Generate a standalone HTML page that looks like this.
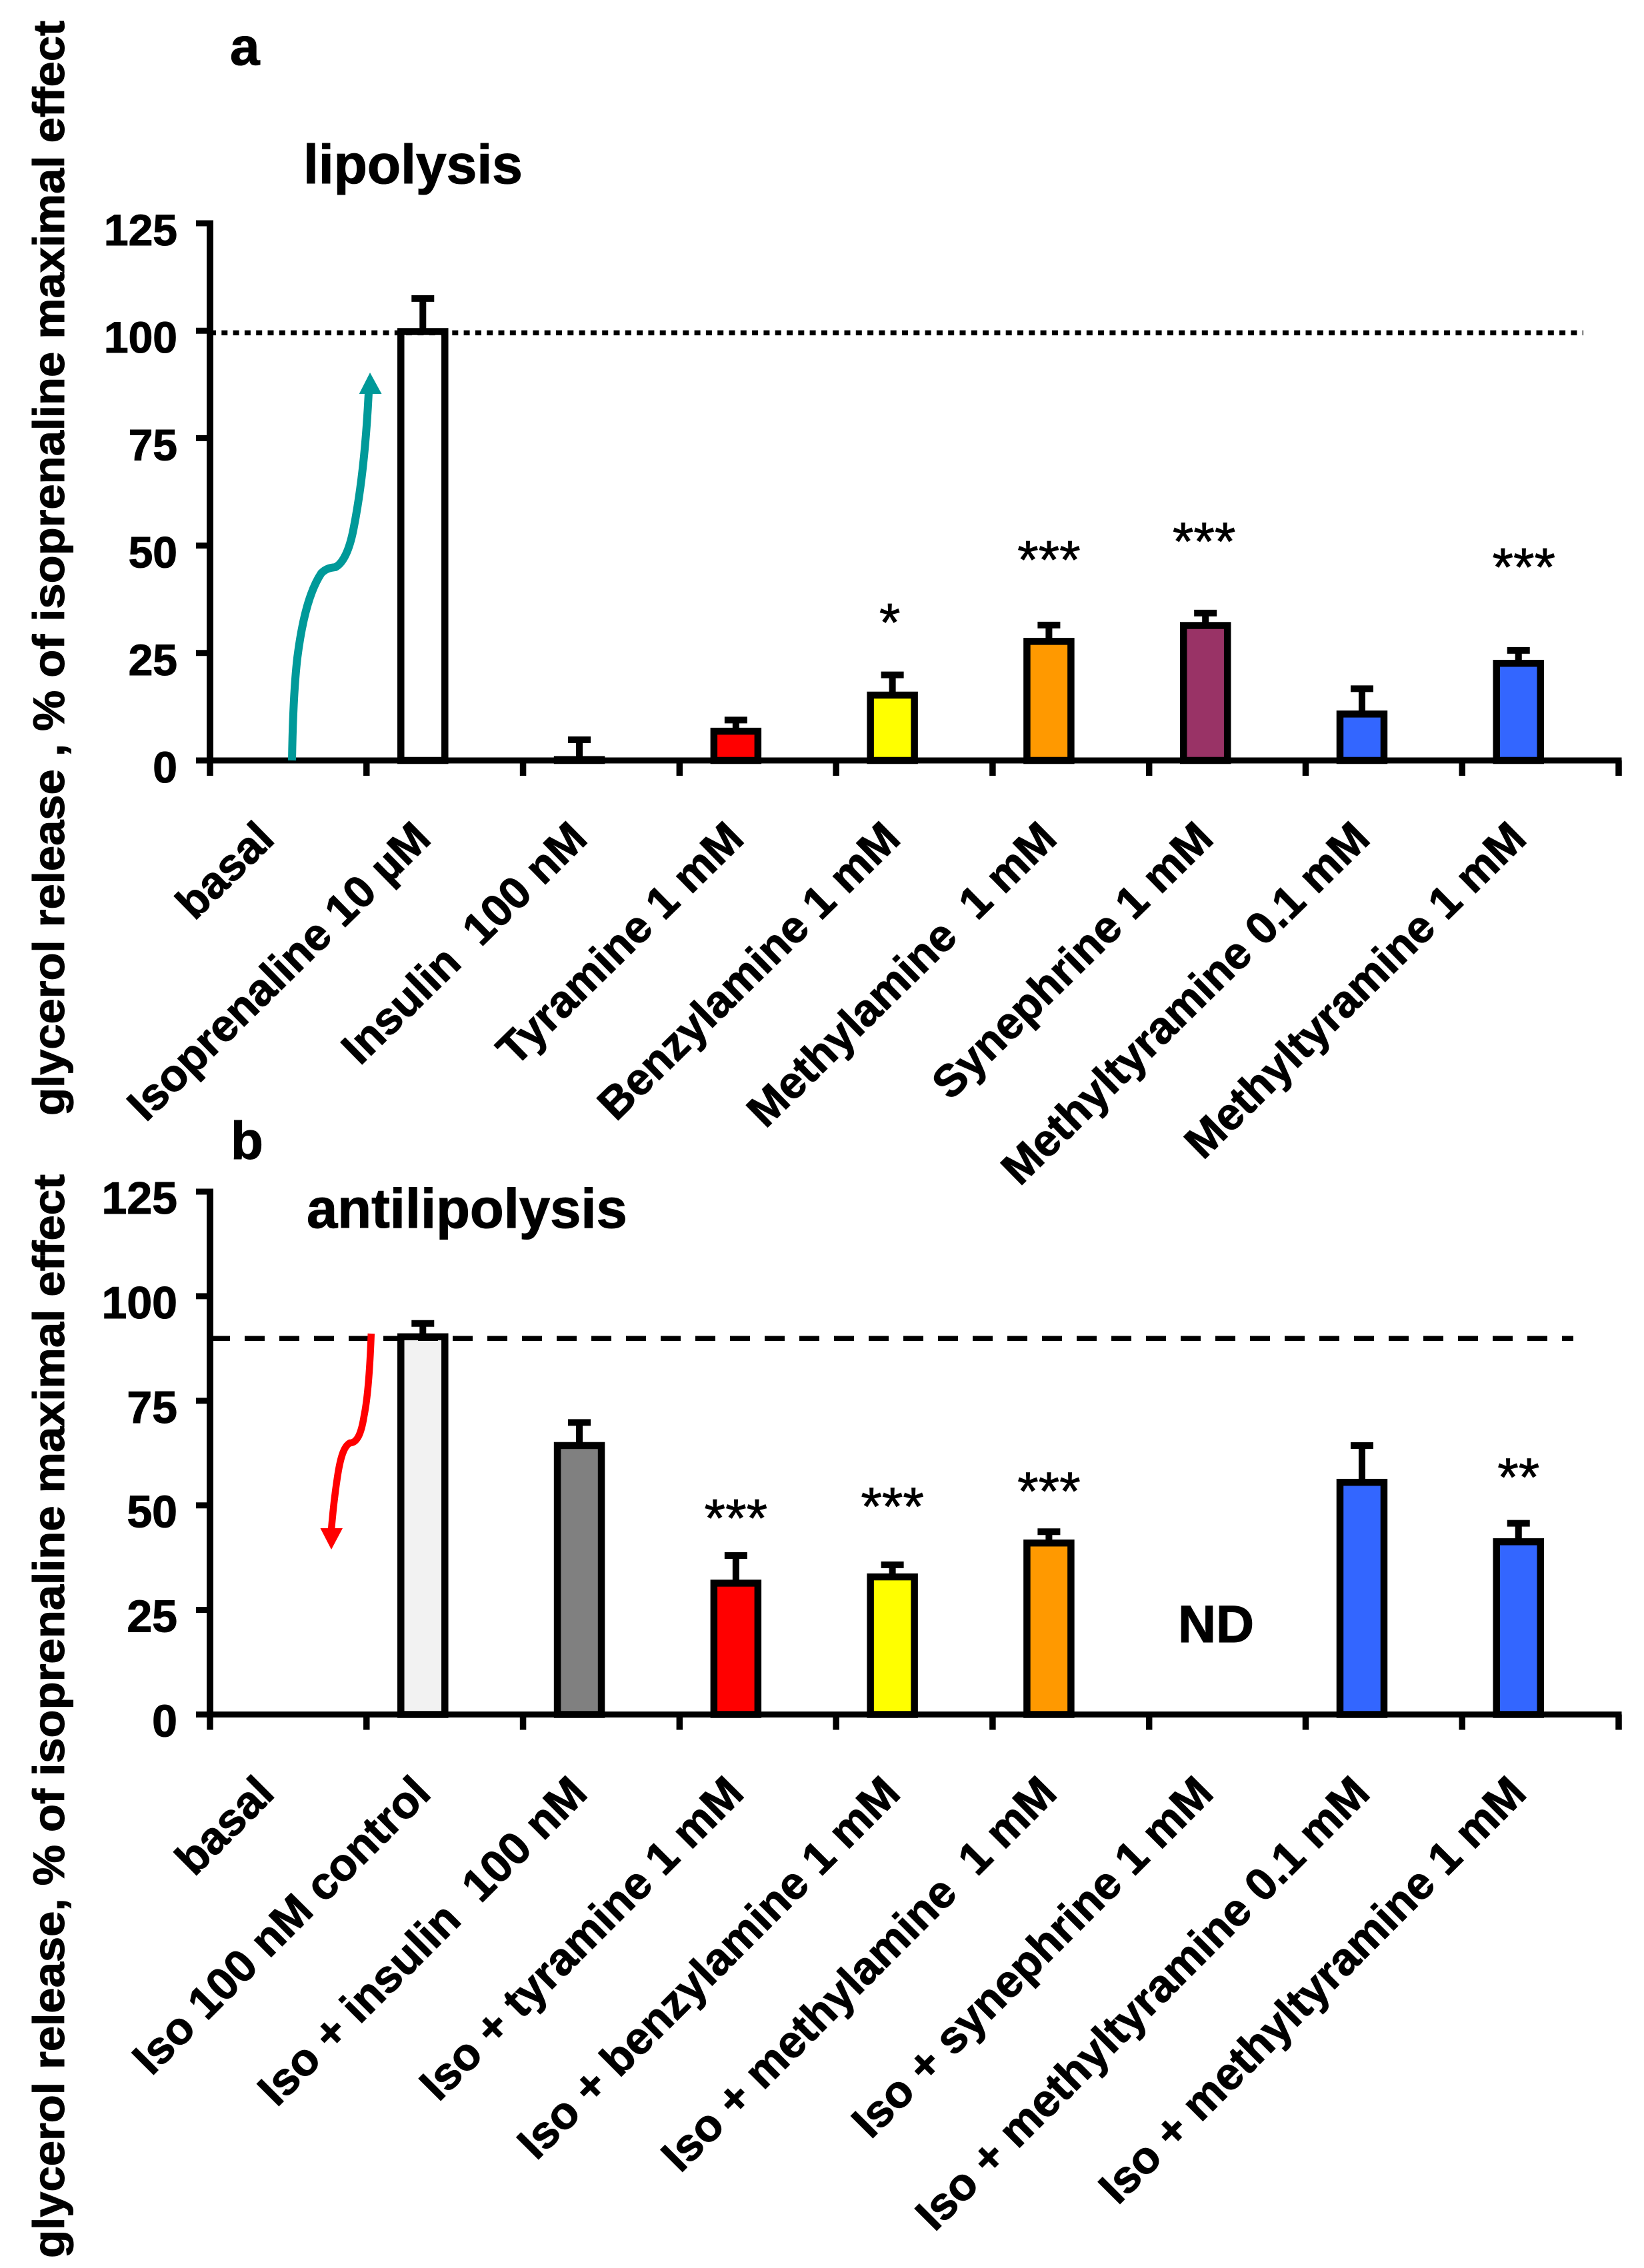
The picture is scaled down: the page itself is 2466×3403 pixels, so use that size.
<!DOCTYPE html>
<html lang="en">
<head>
<meta charset="utf-8">
<title>Lipolysis and antilipolysis bar charts</title>
<style>
html,body{margin:0;padding:0;background:#fff;}
svg{display:block;}
text{font-family:"Liberation Sans",Arial,sans-serif;fill:#000;white-space:pre;}
.b,text[font-weight="bold"]{font-weight:bold;stroke:#000;stroke-width:1.1px;}
.star{stroke:#000;stroke-width:0.8px;}
</style>
</head>
<body>
<svg id="figure" xmlns="http://www.w3.org/2000/svg" width="2466" height="3403" viewBox="0 0 2466 3403">
  <rect x="0" y="0" width="2466" height="3403" fill="#fff"/>

  <text class="b" x="345" y="97" font-size="80">a</text>
  <text class="b" x="455" y="275" font-size="82.2">lipolysis</text>
  <text class="b" font-size="66" text-anchor="start" textLength="1643" lengthAdjust="spacingAndGlyphs" transform="translate(96 1674) rotate(-90)">glycerol release , % of isoprenaline maximal effect</text>

  <text class="b" x="346" y="1739" font-size="80">b</text>
  <text class="b" x="460" y="1842" font-size="83.2">antilipolysis</text>
  <text class="b" font-size="66" text-anchor="start" textLength="1626" lengthAdjust="spacingAndGlyphs" transform="translate(96 3388) rotate(-90)">glycerol release, % of isoprenaline maximal effect</text>
  <text class="b" x="1767" y="2464" font-size="79">ND</text>

  <g id="panel-a"></g>
  <g id="panel-b"></g>

  <g>
    <path d="M438 1141 C439 1080 441 1030 446 987 C452 940 462 890 482 860 C490 852 497 852 503 851 C515 845 524 825 530 795 C542 735 549 670 553 589" fill="none" stroke="#009999" stroke-width="12"/>
    <polygon points="555,559 538.7,591 572.5,591" fill="#009999"/>
  </g>
  <g>
    <path d="M556.8 2001 C555 2050 552 2096 546 2125 C542 2150 536 2165 525 2165 C515 2170 510 2190 506 2217 C501 2250 499 2270 497 2296" fill="none" stroke="#ff0000" stroke-width="10.5"/>
    <polygon points="497,2325 480.5,2293 514,2293" fill="#ff0000"/>
  </g>
</svg>
<script>
// Shared axis ticks
const yTickLabels = [0, 25, 50, 75, 100, 125];

// Panel a: lipolysis
const aCategories = ["basal", "Isoprenaline 10 µM", "Insulin  100 nM", "Tyramine 1 mM", "Benzylamine 1 mM", "Methylamine  1 mM", "Synephrine 1 mM", "Methyltyramine 0.1 mM", "Methyltyramine 1 mM"];
const aValues = [null, 99.8, 0.2, 6.8, 15.2, 27.7, 31.4, 10.8, 22.6];
const aErrorTops = [null, 107.5, 4.8, 9.4, 19.9, 31.5, 34.3, 16.7, 25.6];
const aFills = ["none", "#ffffff", "#ffffff", "#ff0000", "#ffff00", "#ff9900", "#993366", "#3366ff", "#3366ff"];
const aStars = ["", "", "", "", "*", "***", "***", "", "***"];
const aStarLevels = [null, null, null, null, 36.8, 51.4, 55.7, null, 49.7];
const aReference = 99.5;

// Panel b: antilipolysis
const bCategories = ["basal", "Iso 100 nM control", "Iso + insulin  100 nM", "Iso + tyramine 1 mM", "Iso + benzylamine 1 mM", "Iso + methylamine  1 mM", "Iso + synephrine 1 mM", "Iso + methyltyramine 0.1 mM", "Iso + methyltyramine 1 mM"];
const bValues = [null, 90.3, 64.3, 31.4, 32.9, 41, null, 55.5, 41.3];
const bErrorTops = [null, 93.5, 69.8, 38, 35.8, 43.7, null, 64.3, 45.7];
const bFills = ["none", "#f2f2f2", "#808080", "#ff0000", "#ffff00", "#ff9900", "none", "#3366ff", "#3366ff"];
const bStars = ["", "", "", "***", "***", "***", "", "", "**"];
const bStarLevels = [null, null, null, 51.8, 54.6, 58.2, null, null, 61.6];
const bReference = 89.9;

const NS = "http://www.w3.org/2000/svg";

function make(parent, tag, attrs, text) {
  const el = document.createElementNS(NS, tag);
  for (const k in attrs) el.setAttribute(k, attrs[k]);
  if (text !== undefined) el.textContent = text;
  parent.appendChild(el);
  return el;
}

function drawPanel(p) {
  const root = document.getElementById(p.id);
  const x0 = 315, xStep = 234.78, barW = 66, capW = 34, strokeW = 10.5;
  const xEdge = i => x0 + i * xStep;
  const xBar = i => xEdge(i) + 84.5;
  const y = v => p.zeroY - v * p.unit;

  for (let i = 0; i < p.values.length; i++) {
    if (p.values[i] === null) continue;
    const stem = make(root, "line", {x1: xBar(i), x2: xBar(i), y1: y(p.values[i]), y2: y(p.errors[i]), stroke: "#000", "stroke-width": 10});
    
    
    const cap = make(root, "line", {x1: xBar(i) - capW / 2, x2: xBar(i) + capW / 2, y1: y(p.errors[i]), y2: y(p.errors[i]), stroke: "#000", "stroke-width": 10});
    
    
    const bar = make(root, "rect", {x: xBar(i) - barW / 2, y: y(p.values[i]), width: barW, height: Math.max(0, p.zeroY - y(p.values[i])), fill: p.fills[i], stroke: "#000", "stroke-width": strokeW});
    
    
  }

  const refLine = make(root, "line", {x1: x0, x2: p.refEnd, y1: y(p.reference), y2: y(p.reference), stroke: "#000", "stroke-width": p.refWidth, "stroke-dasharray": p.refDash});
  
  

  const yAxis = make(root, "line", {x1: x0, x2: x0, y1: y(125) - 4.5, y2: p.zeroY + 4.5, stroke: "#000", "stroke-width": 10});
  
  
  const xAxis = make(root, "line", {x1: 294, x2: xEdge(9) + 4.5, y1: p.zeroY, y2: p.zeroY, stroke: "#000", "stroke-width": 9});
  
  

  for (const t of yTickLabels) {
    const tick = make(root, "line", {x1: 294, x2: x0, y1: y(t), y2: y(t), stroke: "#000", "stroke-width": 9});
    
    
    const label = make(root, "text", {x: 266, y: y(t) + 33, "font-size": p.tickFont, "font-weight": "bold", "text-anchor": "end"}, String(t));
    
    
  }

  for (let i = 0; i <= p.categories.length; i++) {
    const tick = make(root, "line", {x1: xEdge(i), x2: xEdge(i), y1: p.zeroY, y2: p.zeroY + 23, stroke: "#000", "stroke-width": 9.5});
    
    
  }

  for (let i = 0; i < p.categories.length; i++) {
    const lx = xBar(i) + 15, ly = p.labelY;
    const label = make(root, "text", {x: lx, y: ly, "font-size": p.labelFont, "font-weight": "bold", "text-anchor": "end", transform: "rotate(" + p.labelAngle + " " + lx + " " + ly + ")"}, p.categories[i]);
    
    
    if (p.stars[i]) {
      const star = make(root, "text", {class: "star", x: xBar(i) + (p.starShift[i] || 0), y: y(p.starLevels[i]) + 58, "font-size": 81, "text-anchor": "middle"}, p.stars[i]);
      
      
    }
  }
}

drawPanel({id: "panel-a", zeroY: 1141, unit: 6.448, tickFont: 66, labelY: 1262, labelFont: 67.3, labelAngle: -44.5, starShift: {4: -4, 6: -2, 8: 8}, categories: aCategories, values: aValues, errors: aErrorTops, fills: aFills, stars: aStars, starLevels: aStarLevels, reference: aReference, refEnd: 2375, refWidth: 7.5, refDash: "9 8.3"});
drawPanel({id: "panel-b", zeroY: 2572.5, unit: 6.276, tickFont: 68, labelY: 2694, labelFont: 68, labelAngle: -45, starShift: {}, categories: bCategories, values: bValues, errors: bErrorTops, fills: bFills, stars: bStars, starLevels: bStarLevels, reference: bReference, refEnd: 2360, refWidth: 7.5, refDash: "30 22"});
</script>
</body>
</html>
